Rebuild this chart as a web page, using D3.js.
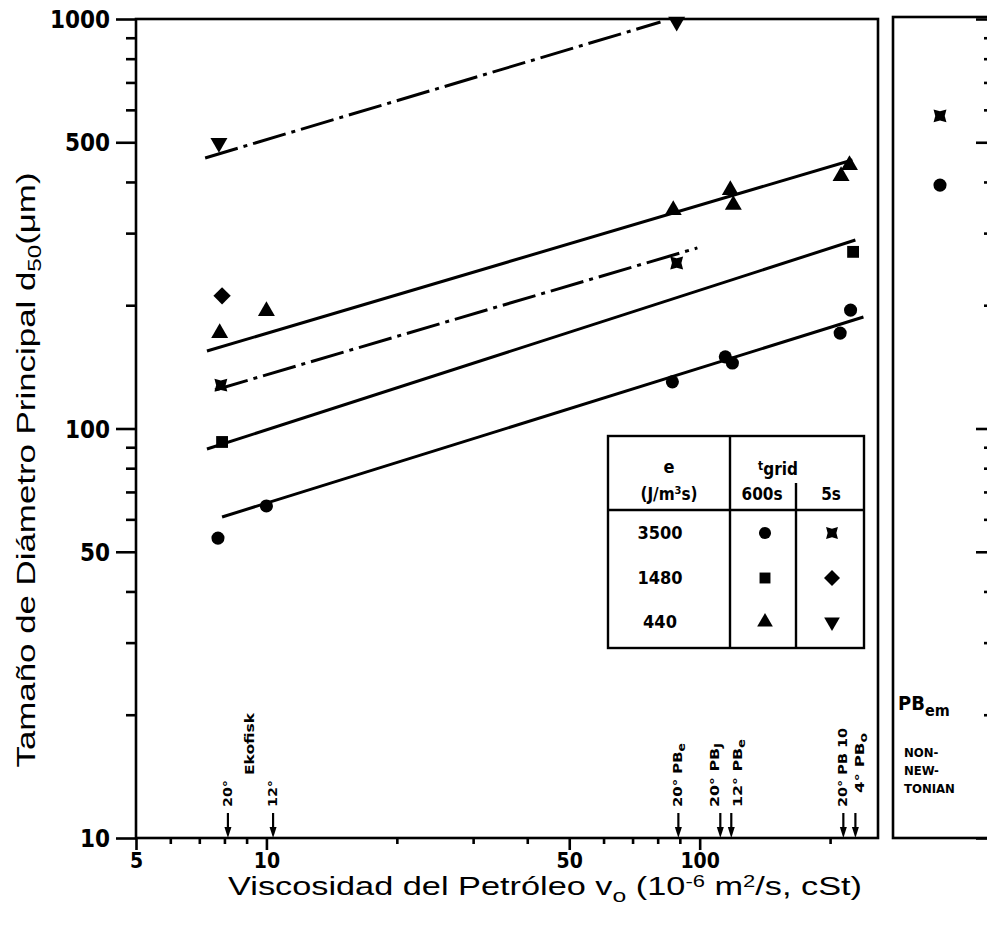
<!DOCTYPE html>
<html><head><meta charset="utf-8">
<script src="https://cdn.jsdelivr.net/npm/d3@7"></script>
<style>
body{margin:0;background:#fff}
svg{display:block;background:#fff}
.lab{font-family:"DejaVu Sans Condensed","DejaVu Sans",sans-serif;font-stretch:condensed;font-weight:bold;fill:#000}
</style>
</head><body>
<svg id="chart" width="987" height="929"></svg>
<script>
// ---------------- DATA ----------------
const yTickLabels = [10, 50, 100, 500, 1000];
const yMinorTicks = [20, 30, 40, 60, 70, 80, 90, 200, 300, 400, 600, 700, 800, 900];
const xTickLabels = [5, 10, 50, 100];
const xMinorTicks = [6, 7, 8, 9, 20, 30, 40, 60, 70, 80, 90, 200];

// measured points [viscosity cSt, d50 um]
const circlePts      = [[7.73, 54], [10.0, 64.7], [86.5, 130], [114.6, 149.6], [119, 144.5], [211, 171], [223, 194.6]];
const squarePts      = [[7.9, 92.7], [226, 270]];
const trianglePts    = [[7.8, 171], [10.0, 193.6], [86.9, 341.7], [117.7, 382], [119.6, 351.5], [221.7, 440], [212, 413.6]];
const xstarPts       = [[7.85, 127.6], [88.5, 253.7]];
const diamondPts     = [[7.9, 210.8]];
const invTrianglePts = [[7.77, 498], [88.5, 985]];

// fitted lines (end points)
const fitCircle      = [[7.9, 60.8], [238.8, 187.2]];
const fitSquare      = [[7.29, 89.1], [228.8, 288.6]];
const fitTriangle    = [[7.29, 154.6], [225.2, 452.6]];
const fitXstar       = [[7.61, 124.2], [98.8, 276.1]];
const fitInvTriangle = [[7.22, 457.8], [81.2, 983]];

// right panel (non-newtonian PBem)
const rightCategories = ["PBem"];
const rightCircle = [393];
const rightXstar  = [580];

// oil annotations along the x axis
const oilValues = [8.15, 9.17, 10.36, 89.3, 111.6, 118.3, 214.6, 228.8];
const oilNames  = ["20°", "Ekofisk", "12°", "20° PB", "20° PB", "12° PB", "20° PB 10", "4° PB"];
const oilSubs   = ["", "", "", "e", "J", "e", "", "o"];
const oilArrow  = [true, false, true, true, true, true, true, true];

// legend table
const legendE    = ["3500", "1480", "440"];
const legend600  = ["circle", "square", "triangle"];
const legend5    = ["xstar", "diamond", "invtriangle"];

// ---------------- LAYOUT ----------------
const svg = d3.select("#chart");
const x = d3.scaleLog().domain([5, 258]).range([136, 878]);
const y = d3.scaleLog().domain([10, 1000]).range([838, 19]);
const xr = d3.scalePoint().domain(rightCategories).range([893, 987]).padding(0.5);

const SW = 2.6;

// custom symbols
const xstarSym = {draw(ctx, size){
  const R = Math.sqrt(size) * 0.68, r = R * 0.52;
  for (let i = 0; i < 8; i++) {
    const a = Math.PI / 4 + i * Math.PI / 4;
    const rad = (i % 2 === 0) ? R : r;
    const px = rad * Math.cos(a), py = rad * Math.sin(a);
    if (i === 0) ctx.moveTo(px, py); else ctx.lineTo(px, py);
  }
  ctx.closePath();
}};
const symDefs = {
  circle:      {type: d3.symbolCircle,   size: 135, rot: 0},
  square:      {type: d3.symbolSquare,   size: 140, rot: 0},
  triangle:    {type: d3.symbolTriangle, size: 125, rot: 0},
  invtriangle: {type: d3.symbolTriangle, size: 125, rot: 180},
  diamond:     {type: d3.symbolSquare,   size: 150, rot: 45},
  xstar:       {type: xstarSym,          size: 180, rot: 0}
};
function symPath(name, scale){
  const s = symDefs[name];
  return d3.symbol().type(s.type).size(s.size * (scale || 1))();
}

// ---------- axes ----------
function styleAxis(g){
  g.select(".domain").remove();
  g.selectAll(".tick line").attr("stroke", "#000").attr("stroke-width", SW);
}
const yMinor = svg.append("g").attr("transform", "translate(136,0)")
  .call(d3.axisLeft(y).tickValues(yMinorTicks).tickSize(10).tickSizeOuter(0).tickFormat(""));
styleAxis(yMinor);
const yMajor = svg.append("g").attr("transform", "translate(136,0)")
  .call(d3.axisLeft(y).tickValues(yTickLabels).tickSize(20).tickSizeOuter(0).tickPadding(6).tickFormat(d3.format("d")));
styleAxis(yMajor);
yMajor.selectAll("text").attr("class", "lab").style("font-size", "24px").attr("dy", "0.36em");

const xMinor = svg.append("g").attr("transform", "translate(0,838)")
  .call(d3.axisBottom(x).tickValues(xMinorTicks).tickSize(6).tickSizeOuter(0).tickFormat(""));
styleAxis(xMinor);
const xMajor = svg.append("g").attr("transform", "translate(0,838)")
  .call(d3.axisBottom(x).tickValues(xTickLabels).tickSize(12).tickSizeOuter(0).tickPadding(3).tickFormat(d3.format("d")));
styleAxis(xMajor);
xMajor.selectAll("text").attr("class", "lab").style("font-size", "21px");

// frame of left panel
svg.append("rect").attr("x", x.range()[0]).attr("y", y.range()[1])
  .attr("width", x.range()[1] - x.range()[0]).attr("height", y.range()[0] - y.range()[1])
  .attr("fill", "none").attr("stroke", "#000").attr("stroke-width", SW);

// right panel frame
svg.append("rect").attr("x", 893).attr("y", 17).attr("width", 100).attr("height", 821)
  .attr("fill", "none").attr("stroke", "#000").attr("stroke-width", SW);
const rMinor = svg.append("g").attr("transform", "translate(988,0)")
  .call(d3.axisLeft(y).tickValues(yMinorTicks).tickSize(4).tickSizeOuter(0).tickFormat(""));
styleAxis(rMinor);
const rMajor = svg.append("g").attr("transform", "translate(988,0)")
  .call(d3.axisLeft(y).tickValues(yTickLabels).tickSize(12).tickSizeOuter(0).tickFormat(""));
styleAxis(rMajor);

// ---------- fitted lines ----------
const line = d3.line().x(d => x(d[0])).y(d => y(d[1]));
[[fitCircle, null], [fitSquare, null], [fitTriangle, null], [fitXstar, "34,6,4,6"], [fitInvTriangle, "34,6,4,6"]]
  .forEach(([pts, dash]) => {
    svg.append("path").datum(pts).attr("d", line).attr("fill", "none")
      .attr("stroke", "#000").attr("stroke-width", 3)
      .attr("stroke-dasharray", dash);
  });

// ---------- points ----------
function drawPts(pts, name){
  svg.append("g").selectAll("path").data(pts).join("path")
    .attr("d", symPath(name))
    .attr("transform", d => `translate(${x(d[0])},${y(d[1])}) rotate(${symDefs[name].rot})`)
    .attr("fill", "#000");
}
drawPts(circlePts, "circle");
drawPts(squarePts, "square");
drawPts(trianglePts, "triangle");
drawPts(xstarPts, "xstar");
drawPts(diamondPts, "diamond");
drawPts(invTrianglePts, "invtriangle");

// right panel points
svg.append("g").selectAll("path").data(rightXstar).join("path")
  .attr("d", symPath("xstar"))
  .attr("transform", (d, i) => `translate(${xr(rightCategories[i])},${y(d)})`).attr("fill", "#000");
svg.append("g").selectAll("path").data(rightCircle).join("path")
  .attr("d", symPath("circle"))
  .attr("transform", (d, i) => `translate(${xr(rightCategories[i])},${y(d)})`).attr("fill", "#000");

// ---------- oil annotations ----------
const annotShift  = [0, 0, 0, 0, -5, 7, 0, 5];
const annotBottom = [807, 775, 807, 807, 807, 807, 807, 793];
const annotLen    = [27, 62, 27, 64, 64, 68, 79, 60];
oilValues.forEach((v, i) => {
  const xa = x(v);
  if (oilArrow[i]) {
    svg.append("line").attr("x1", xa).attr("x2", xa).attr("y1", 813).attr("y2", 832)
      .attr("stroke", "#000").attr("stroke-width", 2.2);
    svg.append("path").attr("d", `M${xa-3.5},827 L${xa+3.5},827 L${xa},838 Z`).attr("fill", "#000");
  }
  const t = svg.append("text").attr("class", "lab")
    .attr("transform", `translate(${xa + annotShift[i]},${annotBottom[i]}) rotate(-90)`)
    .attr("dominant-baseline", "central")
    .attr("textLength", annotLen[i]).attr("lengthAdjust", "spacingAndGlyphs")
    .style("font-size", "12px");
  t.append("tspan").text(oilNames[i]);
  if (oilSubs[i]) t.append("tspan").attr("dy", "3").style("font-size", "10px").text(oilSubs[i]);
});

// right panel labels
const pb = svg.append("text").attr("class", "lab").attr("x", 898).attr("y", 710).style("font-size", "20px")
  .style("font-stretch", "normal");
pb.append("tspan").text("PB");
pb.append("tspan").attr("dy", "6").style("font-size", "16px").text("em");
["NON-", "NEW-", "TONIAN"].forEach((s, i) => {
  svg.append("text").attr("class", "lab").attr("x", 904).attr("y", 757 + i * 18)
    .style("font-size", "13px").text(s);
});

// ---------- legend table ----------
const L = {x0: 608, x1: 864, y0: 436, y1: 648, xm: 730, xs: 796, yh: 510, ys: 483};
const lg = svg.append("g");
lg.append("rect").attr("x", L.x0).attr("y", L.y0).attr("width", L.x1 - L.x0).attr("height", L.y1 - L.y0)
  .attr("fill", "#fff").attr("stroke", "#000").attr("stroke-width", 2.4);
lg.append("line").attr("x1", L.xm).attr("x2", L.xm).attr("y1", L.y0).attr("y2", L.y1).attr("stroke", "#000").attr("stroke-width", 2.4);
lg.append("line").attr("x1", L.x0).attr("x2", L.x1).attr("y1", L.yh).attr("y2", L.yh).attr("stroke", "#000").attr("stroke-width", 2.4);
lg.append("line").attr("x1", L.xs).attr("x2", L.xs).attr("y1", L.ys).attr("y2", L.y1).attr("stroke", "#000").attr("stroke-width", 2.4);
function ltext(tx, ty, s, fs){
  return lg.append("text").attr("class", "lab").attr("x", tx).attr("y", ty).attr("text-anchor", "middle")
    .style("font-size", (fs || 16) + "px").text(s);
}
ltext(669, 473, "e", 18);
const jm = lg.append("text").attr("class", "lab").attr("x", 669).attr("y", 500).attr("text-anchor", "middle").style("font-size", "17px");
jm.append("tspan").text("(J/m");
jm.append("tspan").attr("dy", "-6").style("font-size", "11px").text("3");
jm.append("tspan").attr("dy", "6").text("s)");
const tg = lg.append("text").attr("class", "lab").attr("x", 778).attr("y", 475).attr("text-anchor", "middle").style("font-size", "17px");
tg.append("tspan").attr("dy", "-5").style("font-size", "12px").text("t");
tg.append("tspan").attr("dy", "5").text("grid");
ltext(762, 500, "600s", 17);
ltext(831, 500, "5s", 17);
const rowY = [533, 578, 622];
legendE.forEach((e, i) => {
  ltext(660, rowY[i] + 6, e, 18);
  lg.append("path").attr("d", symPath(legend600[i], 0.85))
    .attr("transform", `translate(765,${rowY[i]}) rotate(${symDefs[legend600[i]].rot})`).attr("fill", "#000");
  lg.append("path").attr("d", symPath(legend5[i], 0.85))
    .attr("transform", `translate(832,${rowY[i]}) rotate(${symDefs[legend5[i]].rot})`).attr("fill", "#000");
});

// ---------- axis titles ----------
const xt = svg.append("text").attr("x", 545).attr("y", 895).attr("text-anchor", "middle")
  .style("font-family", "'Liberation Sans', Arial, sans-serif").style("font-size", "25px").attr("fill", "#000")
  .attr("textLength", 634).attr("lengthAdjust", "spacingAndGlyphs");
xt.append("tspan").text("Viscosidad del Petróleo v");
xt.append("tspan").attr("dy", "7").style("font-size", "18px").text("o");
xt.append("tspan").attr("dy", "-7").text(" (10");
xt.append("tspan").attr("dy", "-8").style("font-size", "16px").text("-6");
xt.append("tspan").attr("dy", "8").text(" m");
xt.append("tspan").attr("dy", "-8").style("font-size", "16px").text("2");
xt.append("tspan").attr("dy", "8").text("/s, cSt)");

const yt = svg.append("text").attr("transform", "translate(35,470) rotate(-90)").attr("text-anchor", "middle")
  .style("font-family", "'Liberation Sans', Arial, sans-serif").style("font-size", "26px").attr("fill", "#000")
  .attr("textLength", 595).attr("lengthAdjust", "spacingAndGlyphs");
yt.append("tspan").text("Tamaño de Diámetro Principal d");
yt.append("tspan").attr("dy", "6").style("font-size", "18px").text("50");
yt.append("tspan").attr("dy", "-6").text("(μm)");
</script>
</body></html>
